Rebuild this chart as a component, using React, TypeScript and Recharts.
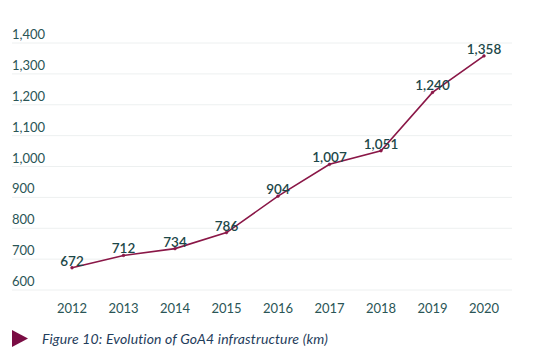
import React from "react";
import { LineChart, Line, XAxis, YAxis, CartesianGrid, LabelList } from "recharts";

const years = ["2012", "2013", "2014", "2015", "2016", "2017", "2018", "2019", "2020"];
const km = [672, 712, 734, 786, 904, 1007, 1051, 1240, 1358];
const yTicks = [600, 700, 800, 900, 1000, 1100, 1200, 1300, 1400];
const caption = "Figure 10: Evolution of GoA4 infrastructure (km)";

const data = years.map((y, i) => ({ year: y, km: km[i] }));

const FONT = "Lato, 'Open Sans', sans-serif";
const TEXT = "#2a5556";
const LINE = "#8a1747";

const fmt = (v: number) => v.toLocaleString("en-US");

const YTick = (props: any) => {
  const { y, payload } = props;
  return (
    <text x={12} y={y - 9} textAnchor="start" dominantBaseline="central" fontFamily={FONT} fontSize={13} fill={TEXT}>
      {fmt(payload.value)}
    </text>
  );
};

const XTick = (props: any) => {
  const { x, y, payload } = props;
  return (
    <text x={x} y={y + 10} textAnchor="middle" dominantBaseline="central" fontFamily={FONT} fontSize={13} fill={TEXT}>
      {payload.value}
    </text>
  );
};

export default function App() {
  return (
    <div style={{ position: "absolute", left: 0, top: 0, width: 545, height: 359, background: "#fff" }}>
      <LineChart width={545} height={359} data={data} margin={{ top: 43, right: 33, left: 0, bottom: 39 }}>
        <CartesianGrid vertical={false} stroke="#edf0f0" strokeWidth={1} />
        <XAxis
          dataKey="year"
          axisLine={false}
          tickLine={false}
          height={30}
          padding={{ left: 60, right: 28 }}
          tick={<XTick />}
          interval={0}
        />
        <YAxis
          domain={[600, 1400]}
          ticks={yTicks}
          width={12}
          axisLine={false}
          tickLine={false}
          tick={<YTick />}
          interval={0}
        />
        <Line
          type="linear"
          dataKey="km"
          stroke={LINE}
          strokeWidth={1.6}
          dot={{ r: 1.4, fill: LINE, stroke: LINE, strokeWidth: 0.5 }}
          isAnimationActive={false}
        >
          <LabelList
            dataKey="km"
            position="top"
            offset={2}
            formatter={(v: any) => fmt(Number(v))}
            style={{ fontFamily: FONT, fontSize: 13.5, fontWeight: 600, fill: "#1c4748" }}
          />
        </Line>
      </LineChart>
      <svg style={{ position: "absolute", left: 12, top: 330 }} width={18} height={18}>
        <polygon points="0,0 16,8.5 0,17" fill="#7a0d44" />
      </svg>
      <div
        style={{
          position: "absolute",
          left: 42,
          top: 330,
          fontFamily: FONT,
          fontStyle: "italic",
          fontSize: 14,
          letterSpacing: 0.15,
          color: "#1f3d5c",
          whiteSpace: "nowrap",
        }}
      >
        {caption}
      </div>
    </div>
  );
}
